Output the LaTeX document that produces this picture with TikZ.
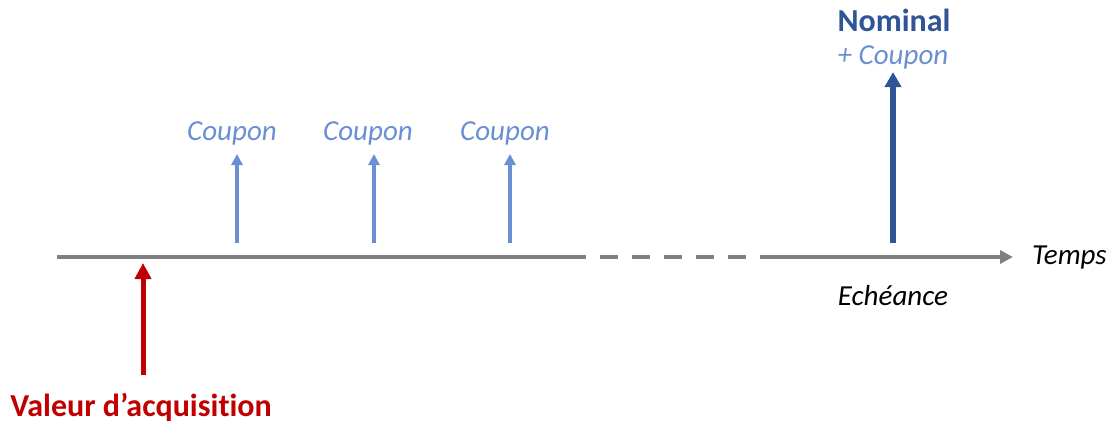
\documentclass[tikz,border=0pt]{standalone}
\usepackage{fontspec}
\setmainfont{Carlito}[Ligatures={TeX,NoCommon}]
\usetikzlibrary{arrows.meta}
\definecolor{flowred}{HTML}{C00000}
\definecolor{navyblue}{HTML}{2F5597}
\definecolor{softblue}{HTML}{6A8FD3}
\definecolor{axisgray}{HTML}{808080}

\begin{document}
\begin{tikzpicture}[
  x=1pt, y=-1pt,
  font=\fontsize{29}{33}\selectfont,
  axis/.style={draw=axisgray, line width=4pt},
  coupon/.style={-{Triangle[length=11pt,width=11pt]}, draw=softblue, line width=3.5pt},
  acquis/.style={-{Triangle[length=16pt,width=16pt]}, draw=flowred, line width=5pt},
  nominal/.style={-{Triangle[length=15pt,width=16pt]}, draw=navyblue, line width=6pt},
  lbl/.style={font=\fontsize{29}{33}\selectfont\itshape, inner sep=0pt},
  head/.style={font=\fontsize{32}{36}\selectfont\bfseries, inner sep=0pt},
]
\useasboundingbox (0,0) rectangle (1110,426);

% ---------- time axis ----------
\coordinate (start) at (57,257);
\coordinate (gapL) at (586,257);
\coordinate (gapR) at (760,257);
\coordinate (end) at (1013,257);
\draw[axis] (start) -- (gapL);
\draw[axis, dash pattern=on 18pt off 14pt] ([xshift=14pt]gapL) -- (gapR);
\draw[axis, -{Triangle[length=13pt,width=13pt]}] (gapR) -- (end);
\node[lbl, anchor=west] (temps) at (1032,258) {Temps};

% ---------- coupons ----------
\foreach \i/\x/\lx in {1/237/232, 2/374/368, 3/510/505} {
  \coordinate (cb\i) at (\x,243);
  \coordinate (ct\i) at (\x,154);
  \draw[coupon] (cb\i) -- (ct\i);
  \node[lbl, text=softblue] (cp\i) at (\lx,133) {Coupon};
}

% ---------- maturity ----------
\coordinate (nb) at (893,243);
\coordinate (nt) at (893,72);
\draw[nominal] (nb) -- (nt);
\node[head, text=navyblue] (nom) at (894,20) {Nominal};
\node[lbl, text=softblue] (plus) at (893,57) {+ Coupon};
\node[lbl] (echeance) at (893,296) {Echéance};

% ---------- purchase ----------
\coordinate (ab) at (143,375);
\coordinate (at) at (143,263);
\draw[acquis] (ab) -- (at);
\node[head, text=flowred] (valeur) at (141,407) {Valeur d’acquisition};

\end{tikzpicture}
\end{document}
